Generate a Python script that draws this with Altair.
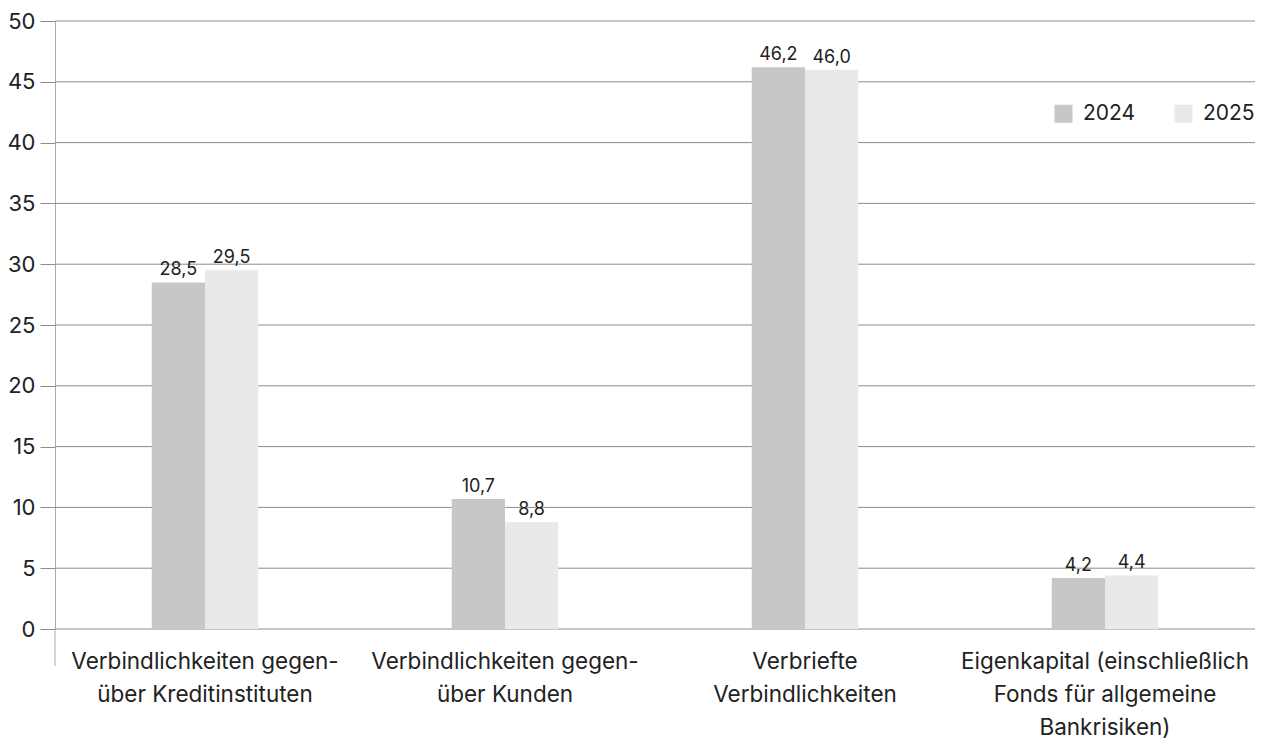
import altair as alt
import pandas as pd

categories = [
    "Verbindlichkeiten gegen-|über Kreditinstituten",
    "Verbindlichkeiten gegen-|über Kunden",
    "Verbriefte|Verbindlichkeiten",
    "Eigenkapital (einschließlich|Fonds für allgemeine|Bankrisiken)",
]
years = ["2024", "2025"]
values_2024 = [28.5, 10.7, 46.2, 4.2]
values_2025 = [29.5, 8.8, 46.0, 4.4]
colors = ["#c6c7c6", "#e9e9e9"]
y_ticks = [0, 5, 10, 15, 20, 25, 30, 35, 40, 45, 50]

rows = []
for c, a, b in zip(categories, values_2024, values_2025):
    rows.append({"cat": c, "year": years[0], "value": a})
    rows.append({"cat": c, "year": years[1], "value": b})
df = pd.DataFrame(rows)

FONT = "Inter"
TXT = "#222222"
GRID = "#8c8c8c"
W, H = 1200, 608

yscale = alt.Scale(domain=[0, 50], nice=False)
yaxis = alt.Axis(
    values=y_ticks,
    title=None,
    grid=False,
    tickSize=15,
    tickColor=GRID,
    domainColor="#aaaaaa",
    labelFontSize=22,
    labelPadding=5,
    labelColor=TXT,
    labelFont=FONT,
)

x = alt.X(
    "cat:N",
    sort=categories,
    scale=alt.Scale(paddingInner=0.645, paddingOuter=0.3225),
    axis=alt.Axis(
        title=None,
        labelExpr="split(datum.label, '|')",
        labelAngle=0,
        domain=False,
        ticks=False,
        labelFontSize=22.5,
        labelLineHeight=33,
        labelPadding=21,
        labelLimit=0,
        labelColor=TXT,
        labelFont=FONT,
        labelBaseline="top",
    ),
)
xo = alt.XOffset("year:N", sort=years, scale=alt.Scale(paddingInner=0, paddingOuter=0))
y = alt.Y("value:Q", scale=yscale, axis=yaxis)

grid = alt.Chart(pd.DataFrame({"v": y_ticks})).mark_rule(color=GRID, strokeWidth=1).encode(
    y=alt.Y("v:Q", scale=yscale, axis=yaxis),
    x=alt.value(0),
    x2=alt.value(W + 8),
)

base = alt.Chart(df)
bars = base.mark_bar().encode(
    x=x,
    xOffset=xo,
    y=y,
    color=alt.Color(
        "year:N",
        sort=years,
        scale=alt.Scale(domain=years, range=colors),
        legend=alt.Legend(
            title=None,
            orient="none",
            legendX=998,
            legendY=82,
            direction="horizontal",
            symbolType="square",
            symbolSize=324,
            symbolStrokeWidth=0,
            labelFontSize=21,
            labelFont=FONT,
            labelColor=TXT,
            labelOffset=9,
            columnPadding=37,
        ),
    ),
)
labels = base.transform_calculate(
    lbl="replace(format(datum.value, '.1f'), '.', ',')"
).mark_text(baseline="alphabetic", dy=-7, fontSize=18, font=FONT, color=TXT).encode(
    x=x, xOffset=xo, y=y, text="lbl:N"
)
ext = alt.Chart(pd.DataFrame({"a": [0]})).mark_rule(color="#aaaaaa").encode(
    x=alt.value(0), y=alt.value(H), y2=alt.value(H + 37)
)

chart = (
    alt.layer(grid, bars, labels, ext)
    .properties(
        width=W,
        height=H,
        autosize=alt.AutoSizeParams(type="none"),
        padding={"left": 47, "top": 13, "right": 0, "bottom": 110},
    )
    .configure_view(stroke=None)
)

chart.save("out.html", embed_options={"renderer": "svg", "actions": False})
